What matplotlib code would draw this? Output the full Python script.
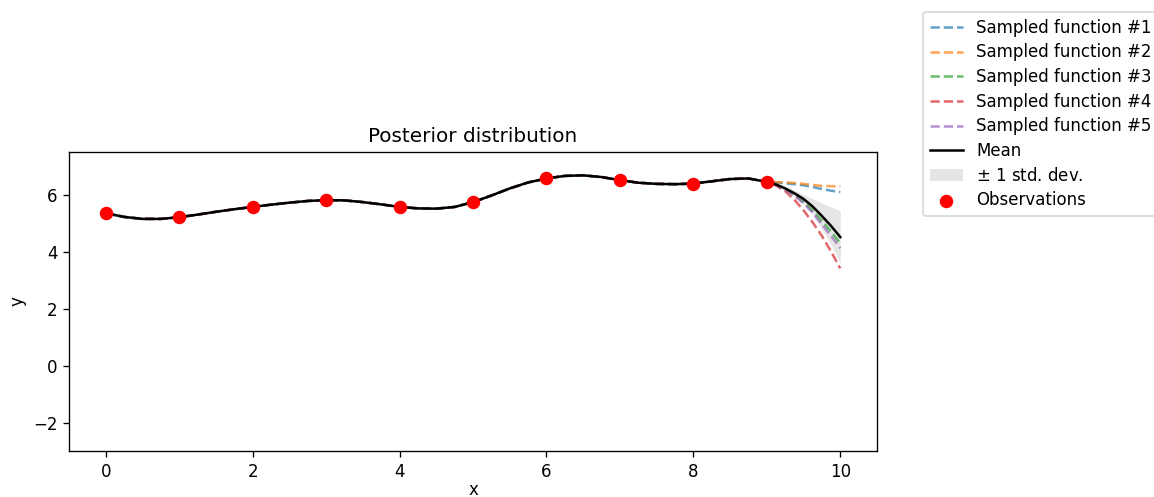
import numpy as np
import matplotlib.pyplot as plt

# observations
x_obs = [0, 1, 2, 3, 4, 5, 6, 7, 8, 9]
y_obs = [5.35, 5.21, 5.57, 5.81, 5.57, 5.74, 6.57, 6.51, 6.39, 6.45]

x_grid = np.concatenate([np.arange(0, 9.01, 0.25), np.arange(9.125, 10.01, 0.125)])
mean = [5.35, 5.22, 5.15, 5.15, 5.21, 5.30, 5.40, 5.49, 5.57, 5.65,
        5.72, 5.78, 5.81, 5.80, 5.74, 5.66, 5.57, 5.52, 5.51, 5.57,
        5.74, 5.97, 6.22, 6.43, 6.57, 6.66, 6.68, 6.62, 6.51, 6.42,
        6.38, 6.37, 6.39, 6.47, 6.55, 6.57, 6.45,
        6.36, 6.22, 6.05, 5.85, 5.58, 5.25, 4.90, 4.51]
std = [0.0, 0.02, 0.02, 0.02, 0.0, 0.02, 0.02, 0.02, 0.0, 0.02,
       0.02, 0.02, 0.0, 0.02, 0.02, 0.02, 0.0, 0.02, 0.02, 0.02,
       0.0, 0.02, 0.02, 0.02, 0.0, 0.02, 0.02, 0.02, 0.0, 0.02,
       0.02, 0.02, 0.0, 0.02, 0.02, 0.02, 0.0,
       0.03, 0.07, 0.11, 0.16, 0.28, 0.45, 0.67, 0.92]

# sampled functions follow the mean up to x=9, tails from x=9 to 10
tail1 = [6.45, 6.43, 6.40, 6.37, 6.33, 6.27, 6.20, 6.14, 6.09]
tail2 = [6.45, 6.44, 6.43, 6.41, 6.38, 6.34, 6.31, 6.30, 6.30]
tail3 = [6.45, 6.35, 6.20, 6.00, 5.75, 5.44, 5.08, 4.70, 4.29]
tail4 = [6.45, 6.32, 6.12, 5.82, 5.45, 5.02, 4.55, 4.00, 3.41]
tail5 = [6.45, 6.34, 6.18, 5.96, 5.70, 5.36, 4.95, 4.55, 4.12]
tails = [tail1, tail2, tail3, tail4, tail5]

mean = np.array(mean)
std = np.array(std)

fig = plt.figure(figsize=(1154/120, 497/120), dpi=120)
ax = fig.add_axes([0.0598, 0.0926, 0.7002, 0.6016])

for i, t in enumerate(tails):
    ys = np.concatenate([mean[:36], t])
    ax.plot(x_grid, ys, ls='--', lw=1.5, alpha=0.7, label="Sampled function #%d" % (i+1))

ax.plot(x_grid, mean, color='k', lw=1.5, label="Mean")
ax.fill_between(x_grid, mean - std, mean + std, color='gray', alpha=0.2, lw=0,
                label=r"$\pm$ 1 std. dev.")
ax.scatter(x_obs, y_obs, color='red', s=50, zorder=10, label="Observations")

ax.set_xlim(-0.5, 10.5)
ax.set_ylim(-3, 7.5)
ax.set_yticks([-2, 0, 2, 4, 6])
ax.set_title("Posterior distribution")
ax.set_xlabel("x", labelpad=0)
ax.set_ylabel("y")

ax.legend(loc='upper left', bbox_to_anchor=(1.057, 1.468), borderaxespad=0,
          labelspacing=0.4)

fig.savefig("out.png", dpi=120)
